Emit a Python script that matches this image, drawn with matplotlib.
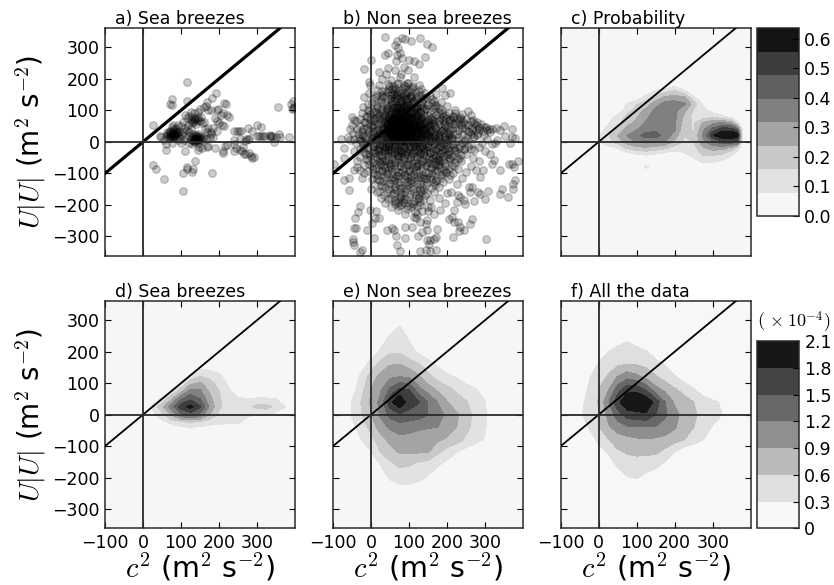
import numpy as np
import matplotlib
matplotlib.use("Agg")
import matplotlib.pyplot as plt

plt.rcParams['mathtext.fontset'] = 'cm'
plt.rcParams['font.family'] = 'DejaVu Sans'

# scatter points read off panels a) and b), (c2, U|U|)
sea_points = [
    (116,191),(25,54),(75,137),(72,120),(76,118),(117,129),(191,154),(182,138),(168,127),(212,122),(218,120),
    (354,112),(390,120),(396,128),(395,108),(392,105),(398,112),
    (60,20),(65,30),(70,25),(72,18),(75,28),(78,22),(80,30),(82,18),(85,25),(88,32),(90,20),(75,15),(68,12),
    (62,28),(70,35),(80,12),(85,15),(92,28),(78,38),(84,40),(95,35),(100,22),(105,30),(110,20),(98,12),(88,45),
    (92,52),(80,55),(75,48),(100,50),(105,62),(110,45),(115,38),(120,30),(125,42),(118,55),
    (83,24),(76,20),(88,26),(72,30),(80,24),(90,30),(70,16),(66,22),
    (125,10),(130,15),(135,8),(138,12),(140,5),(142,18),(145,10),(148,15),(150,8),(135,18),(128,5),(132,2),
    (145,3),(150,20),(155,12),(140,22),(132,25),(138,-2),(147,-3),(155,5),(122,18),(160,15),(145,25),
    (138,8),(142,12),(135,4),(146,7),(140,15),
    (125,70),(130,65),(135,72),(138,68),(140,75),(145,70),(150,65),(135,62),(130,78),(145,80),
    (152,80),(128,60),(155,60),(140,58),(160,62),(120,82),(115,75),(135,90),(125,95),(145,95),
    (150,105),(160,110),(165,115),(170,100),(180,100),(110,85),
    (195,100),(198,105),(205,85),(210,90),(220,85),(225,80),(190,75),(195,65),(200,60),(208,55),(212,50),
    (185,45),(195,35),(178,25),(175,15),(168,30),(162,40),(170,45),
    (288,35),(240,35),(248,35),(252,35),(258,35),(277,45),(299,55),(311,47),(300,20),(305,18),(310,20),(315,20),
    (320,18),(335,18),(340,20),(338,15),(333,22),(358,25),(350,15),(385,15),(345,-2),(360,15),
    (240,5),(255,10),(270,8),(275,8),(268,2),(280,8),
    (240,-8),(245,-20),(240,-28),(255,-25),(260,-30),(265,-38),(280,-35),(270,-40),(285,-45),(287,-50),(293,-48),
    (263,-15),(190,-18),(210,-35),(210,-28),(215,-12),(220,-10),
    (26,-72),(33,-85),(55,-117),(105,-100),(115,-85),(117,-80),(130,-95),(137,-62),(132,-85),(182,-100),(106,-157),
    (55,5),(60,-8),(60,-25),(48,15),(45,20),(75,-5),(110,-28),(120,-5),(130,-8),(145,-25),(147,-15),(155,-18),
    (170,-12),(168,-15),(100,-3),(108,5),(92,5),(165,8),(180,30),(185,15),
]

non_sea_outer = [
    (36,332),(68,320),(82,328),(90,325),(105,320),(130,328),(147,310),(160,302),(64,307),(70,297),(77,281),(68,276),
    (38,276),(46,281),(0,261),(-19,231),(20,223),(46,235),(67,255),(82,265),(100,260),(112,255),(127,248),(142,268),
    (86,238),(97,228),(64,228),
    (-28,-204),(-35,-223),(-43,-242),(-2,-217),(14,-219),(3,-257),(20,-243),(11,-243),(-46,-272),(-39,-273),(-11,-281),
    (7,-304),(-48,-307),(-48,-318),(-46,-326),(-24,-342),(-28,-350),(68,-326),(75,-347),(130,-346),(144,-342),(154,-346),
    (172,-342),(89,-304),(67,-300),(42,-279),(55,-272),(61,-281),(90,-270),(108,-270),(124,-297),(147,-249),(145,-260),
    (130,-254),(118,-243),(121,-228),(149,-206),(149,-219),(167,-230),(182,-217),(219,-215),(205,-244),(212,-238),
    (218,-254),(228,-254),(235,-270),(244,-281),(231,-283),(216,-302),(266,-244),(261,-262),(303,-307),(174,-276),
    (147,-312),(156,-312),(165,-307),(172,-302),(152,-323),(134,-286),(147,-281),
    (257,-144),(266,-144),(260,-160),(281,-160),(286,-165),(308,-157),(299,-180),(270,-186),(246,-184),(248,-197),
    (235,-174),(228,-169),(200,-162),(345,-151),(340,-164),(360,-175),(374,-133),(380,-122),(374,-148),(362,-69),
    (371,-69),(375,-80),(388,-60),(340,-90),(323,-56),(318,-69),(314,-37),(296,-90),(288,-111),
    (255,97),(209,156),(187,170),(349,51),(371,40),(340,37),(310,42),(297,48),(279,64),(305,37),(314,32),(353,18),
    (371,16),(380,11),(331,5),(327,-3),(366,-5),
    (-50,80),(-45,70),(-40,65),(-50,55),(-55,42),(-80,10),(-60,15),(-55,5),(-70,-20),(-98,-69),(-70,-50),(-70,-122),
    (-57,-116),(-59,-154),(-24,-116),(-28,-90),(-46,-90),(-19,-100),(-37,-80),(-19,143),(-2,180),(-6,190),(-45,8),(-30,5),
]

non_sea_halo = [
    (30,200),(52,195),(75,205),(95,188),(20,180),(48,178),(68,185),(88,172),(110,178),(125,160),(105,150),(80,155),
    (60,165),(38,160),(15,165),(-5,155),(5,140),(28,142),(50,148),(72,138),(95,135),(118,138),(140,140),(165,128),
    (150,118),(185,125),(200,115),(178,108),(220,100),(240,88),(205,90),(225,75),(250,72),(270,60),(190,82),(165,95),
    (-8,120),(-20,112),(-5,98),(-25,90),(-10,80),(-30,72),(-15,62),(-28,50),(-38,42),(-25,35),(-12,45),(-35,25),
    (-20,18),(-48,28),(-32,12),(-15,8),(-40,-5),(-22,-8),(-8,-15),(-30,-22),(-45,-30),(-18,-32),(-5,-38),(-28,-48),
    (-12,-55),(-38,-60),(-5,-70),(-18,-72),(5,-85),(-8,-92),(12,-105),(2,-118),(20,-122),(8,-135),(30,-140),(22,-155),
    (35,-168),(48,-150),(45,-180),(60,-162),(62,-190),(75,-175),(80,-200),(92,-182),(95,-212),(108,-195),(115,-222),
    (125,-178),(130,-200),(142,-170),(155,-185),(165,-160),(180,-142),(170,-122),(190,-128),(205,-118),(215,-100),(225,-135),
    (240,-115),(250,-95),(262,-78),(275,-90),(285,-62),(268,-50),(250,-40),(238,-62),(230,-85),(212,-72),(198,-95),(185,-105),
    (270,-25),(285,-15),(262,-8),(248,5),(268,15),(282,28),(258,32),(240,45),(225,25),(212,40),(235,-12),(220,-30),
    (205,-50),(190,-60),(175,-78),(160,-100),(145,-118),(128,-135),(110,-150),(95,-128),(78,-145),(60,-120),(42,-100),(28,-88),
    (158,-80),(142,-95),(122,-108),(105,-120),(88,-105),(70,-95),(52,-82),(35,-72),(20,-62),(10,-48),(26,-42),(45,-58),
    (62,-65),(80,-78),(100,-85),(118,-75),(135,-62),(152,-55),(170,-45),(185,-35),(200,-22),(212,-8),(195,5),(178,-10),
    (205,22),(188,35),(172,-25),(155,-32),(138,-40),(120,-48),(102,-55),(85,-52),(68,-42),(52,-35),(38,-28),(22,-22),
    (8,-25),(12,-8),(28,-5),(45,-12),(60,-20),(78,-28),(95,-32),(112,-25),(130,-18),(148,-12),(165,-5),(180,10),
    (195,55),(178,68),(205,62),(160,78),(145,105),(128,118),(110,128),(92,118),(75,122),(55,128),(35,122),(15,115),
    (8,95),(25,100),(42,108),(-2,72),(12,78),(0,55),(-5,30),(8,35),(2,12),(15,18),(155,50),(170,40),(150,28),(165,18),
    (132,168),(112,205),(78,215),(40,215),(200,-40),(180,-60),(165,-70),(228,-50),(245,-22),(90,-228),(70,-215),(52,-205),
    (112,-238),(135,-218),(158,-205),(38,-195),(25,-178),(15,-160),(0,-150),(180,-178),(195,-195),(210,-160),(225,-190),
    (300,-30),(292,-5),(305,10),(298,22),(318,-8),(285,48),(265,45),(242,62),(262,85),(195,148),(172,152),(155,145),
    (215,78),(232,68),(248,58),(262,66),(276,52),(290,58),(302,46),(318,40),(330,44),(222,92),(235,78),(255,52),
    (268,70),(285,40),(296,34),(222,58),(238,72),(210,70),(198,75),(186,92),(172,118),(160,135),(142,155),(125,180),
]

non_sea_core = [
    (30,10),(38,18),(45,8),(52,15),(60,5),(68,12),(75,3),(82,10),(90,16),(98,6),(105,12),(112,4),(120,14),(128,8),(135,16),(142,6),
    (150,12),(158,4),(34,28),(42,35),(48,24),(55,32),(62,25),(70,34),(76,26),(84,30),(92,36),(100,27),(108,34),(115,26),(124,32),(132,25),
    (140,33),(148,26),(35,45),(42,52),(50,42),(56,50),(63,44),(70,52),(78,45),(85,50),(92,43),(100,52),(108,46),(116,53),(124,44),(132,50),
    (140,47),(150,52),(38,62),(46,68),(53,60),(60,66),(66,58),(72,68),(80,62),(88,68),(95,60),(102,68),(110,62),(118,70),(126,62),(135,68),
    (143,62),(44,80),(50,88),(58,78),(64,86),(70,78),(78,84),(85,78),(92,86),(100,80),(108,88),(116,80),(124,86),(132,78),(50,100),(58,108),
    (65,98),(72,106),(80,100),(88,108),(96,100),(104,106),(112,98),(120,104),(55,120),(63,128),(70,118),(78,126),(86,118),(95,124),(103,116),
    (60,140),(68,148),(76,138),(84,145),(92,136),(100,142),(40,-5),(48,-12),(55,-3),(63,-10),(70,-18),(78,-6),(86,-14),(94,-4),(102,-12),(110,-5),
    (118,-14),(126,-4),(134,-10),(142,-2),(150,-8),(50,-28),(60,-32),(70,-35),(80,-30),(90,-38),(100,-28),(110,-35),(120,-30),(130,-36),(140,-28),
    (65,55),(72,48),(78,58),(84,42),(66,38),(74,40),(82,56),(60,48),(68,62),(76,70),(86,60),(90,50),(58,40),(52,55),(64,72),(70,30),(78,34),
    (86,24),(94,30),(102,40),(110,55),(118,45),(60,20),(68,18),(76,14),(84,18),(92,22),(100,16),(108,22),(52,22),(44,28),(40,40),(46,60),(54,70),
    (62,80),(70,90),(78,95),(86,90),(94,75),(102,58),(74,55),(80,48),(66,50),(72,62),(78,42),(70,44),(62,56),(84,66),(90,58),(56,62),(48,48),
    (65,15),(75,22),(85,8),(95,12),(105,24),(115,18),(125,22),(135,28),(145,20),(155,35),(165,30),(160,60),(150,70),(140,85),(130,95),(120,115),
    (45,-25),(35,-15),(25,5),(20,25),(28,42),(25,58),(30,72),(35,85),(40,98),(45,115),(50,135),(112,130),(105,145),(90,155),(70,160),(55,152),
    (42,12),(50,4),(58,12),(66,6),(74,10),(80,4),(88,12),(96,2),(104,8),(112,14),(120,6),(128,12),(46,30),(54,26),(62,34),(68,28),(74,36),
    (82,26),(90,34),(98,24),(106,32),(114,38),(122,28),(130,36),(44,46),(52,40),(60,38),(68,46),(76,38),(88,44),(96,50),(104,44),(112,50),
    (120,40),(128,46),(136,40),(42,58),(50,64),(58,56),(64,64),(72,56),(82,52),(88,62),(98,56),(106,52),(114,60),(122,54),(130,58),(138,56),
    (48,76),(56,72),(62,74),(68,82),(76,76),(84,72),(92,78),(100,72),(108,78),(114,72),(122,78),(130,72),(54,90),(62,94),(68,92),(74,88),
    (82,92),(90,94),(98,90),(106,96),(114,90),(122,94),(60,110),(68,112),(76,108),(84,114),(92,110),(100,112),(70,72),(66,42),(80,66),(74,66),
    (90,40),(96,38),(102,34),(58,30),(52,36),(46,38),(72,22),(80,16),(88,6),(60,12),(56,24),(64,32),(70,60),(78,50),(86,46),(94,66),(102,74),
]

non_sea_body = [
    (44,182),(58,176),(72,188),(86,180),(98,186),(108,174),
    (28,162),(41,158),(55,166),(68,156),(82,164),(95,158),(108,166),(118,155),
    (12,142),(25,136),(38,146),(52,138),(66,144),(79,134),(92,148),(106,138),(120,144),(133,136),(146,142),(128,150),
    (2,122),(14,116),(27,126),(40,118),(54,124),(67,114),(81,128),(94,116),(108,122),(121,112),(134,126),(147,118),(160,122),(168,114),
    (-8,102),(4,96),(16,106),(28,98),(41,104),(53,94),(66,108),(79,98),(91,104),(104,94),(117,106),(129,98),(142,104),(155,94),(167,106),(178,96),(188,102),(136,112),
    (-14,82),(-2,88),(10,76),(22,86),(35,78),(47,84),(59,74),(72,88),(84,76),(97,84),(109,74),(122,86),(134,76),(147,84),(159,72),(172,86),(184,76),(196,84),(207,74),(216,82),
    (-18,62),(-6,56),(6,66),(18,58),(30,64),(42,54),(55,68),(67,56),(80,66),(92,54),(105,64),(117,56),(130,68),(142,58),(155,64),(167,54),(180,66),(192,56),(205,68),(217,58),(228,64),(238,54),(160,70),(148,44),
    (-20,42),(-8,36),(4,46),(16,38),(28,48),(40,34),(52,44),(64,36),(76,48),(88,38),(100,44),(112,34),(124,46),(136,38),(148,48),(160,36),(172,44),(184,34),(196,46),(208,38),(220,46),(232,36),(244,44),(256,34),(266,42),(275,36),
    (-24,22),(-12,16),(0,26),(12,18),(24,28),(36,14),(48,24),(60,16),(72,28),(84,14),(96,26),(108,18),(120,28),(132,16),(144,24),(156,14),(168,26),(180,18),(192,28),(204,16),(216,24),(228,14),(240,26),(252,18),(262,24),(272,14),(280,22),(198,8),
    (-25,2),(-13,-4),(-1,6),(11,-2),(23,-8),(35,4),(47,-4),(59,6),(71,-6),(83,2),(95,-8),(107,4),(119,-4),(131,6),(143,-6),(155,2),(167,-8),(179,4),(191,-4),(203,6),(215,-6),(227,2),(239,-4),(248,4),(28,-12),(122,-2),(172,2),(210,8),
    (-20,-18),(-8,-24),(4,-14),(16,-22),(28,-28),(40,-16),(52,-22),(64,-14),(76,-26),(88,-18),(100,-24),(112,-14),(124,-22),(136,-16),(148,-26),(160,-18),(172,-24),(184,-14),(196,-22),(208,-16),(220,-26),(232,-18),(244,-24),(256,-14),(262,-22),(190,-8),
    (-14,-38),(-2,-44),(10,-34),(22,-42),(34,-36),(46,-46),(58,-38),(70,-44),(82,-34),(94,-42),(106,-36),(118,-46),(130,-38),(142,-44),(154,-34),(166,-42),(178,-36),(190,-46),(202,-38),(214,-44),(226,-34),(238,-42),
    (-8,-58),(4,-64),(16,-54),(28,-62),(40,-56),(52,-66),(64,-58),(76,-64),(88,-54),(100,-62),(112,-56),(124,-66),(136,-58),(148,-64),(160,-54),(172,-62),(184,-56),(196,-66),(208,-58),(220,-64),(232,-54),(180,-48),
    (2,-78),(14,-84),(26,-74),(38,-82),(50,-76),(62,-86),(74,-78),(86,-84),(98,-74),(110,-82),(122,-76),(134,-86),(146,-78),(158,-84),(170,-74),(182,-82),(194,-76),(206,-86),(218,-78),(100,-92),
    (6,-98),(18,-104),(30,-94),(42,-102),(54,-96),(66,-106),(78,-98),(90,-104),(102,-94),(114,-102),(126,-96),(138,-106),(150,-98),(162,-104),(174,-94),(186,-102),(198,-96),(208,-104),
    (16,-118),(28,-124),(40,-114),(52,-122),(64,-116),(76,-126),(88,-118),(100,-124),(112,-114),(124,-122),(136,-116),(148,-126),(160,-118),(172,-124),(184,-114),
    (26,-138),(38,-144),(50,-134),(62,-142),(74,-136),(86,-146),(98,-138),(110,-144),(122,-134),(134,-142),(146,-136),(158,-146),(168,-138),
    (42,-158),(54,-164),(66,-154),(78,-162),(90,-156),(102,-166),(114,-158),(126,-164),(138,-154),(148,-162),
    (52,-178),(64,-184),(76,-174),(88,-182),(100,-176),(112,-186),(124,-178),(136,-184),
    (62,-198),(74,-204),(86,-194),(98,-202),(110,-196),(120,-204),
    (48,168),(62,172),(90,176),(102,160),(15,150),(30,150),(60,152),(88,140),(115,122),(132,108),
    (15,90),(30,90),(48,74),(62,92),(76,112),(88,94),(105,78),(118,92),(130,60),(140,78),(152,58),(165,68),(178,58),(190,70),(200,48),
    (8,70),(22,72),(36,68),(50,48),(64,66),(76,60),(90,72),(102,50),(116,64),(128,52),(142,42),(155,30),(168,48),(180,28),(190,40),(202,30),
    (6,52),(18,44),(32,38),(44,46),(58,34),(70,42),(82,38),(94,48),(106,28),(118,36),(130,42),(142,28),(155,20),(168,12),(182,22),(194,18),(206,26),
    (4,30),(14,8),(28,20),(40,26),(54,10),(66,22),(80,20),(92,10),(104,20),(116,10),(128,20),(140,12),(152,22),(164,6),(176,14),(188,-2),(200,-10),(214,12),
    (8,-12),(22,-16),(36,-22),(48,-6),(62,-8),(76,-14),(88,-2),(100,-16),(114,-8),(126,-14),(138,-24),(150,-16),(162,-30),(176,-18),(188,-26),(204,-30),(218,-18),
    (6,-36),(18,-30),(30,-48),(44,-32),(56,-50),(68,-30),(80,-46),(92,-28),(104,-48),(116,-30),(128,-52),(140,-32),(152,-48),(164,-50),(176,-54),(192,-32),(208,-52),
    (12,-70),(24,-66),(36,-60),(48,-70),(60,-74),(72,-52),(84,-68),(96,-70),(108,-66),(120,-72),(132,-70),(144,-72),(156,-68),(168,-88),(180,-70),(192,-88),
    (22,-92),(34,-110),(46,-90),(58,-112),(70,-108),(82,-92),(94,-112),(106,-108),(118,-88),(130,-110),(142,-116),(154,-110),(166,-130),(128,-148),(70,-128),(48,-130),
    (92,-150),(80,-170),(60,-148),(105,-132),(118,-168),(132,-160),(85,-190),(70,-192),(105,-208),(128,-192),
]

# density fields
prob_x = [0, 25, 50, 75, 100, 125, 150, 175, 200, 225, 250, 275, 300, 325, 350, 365, 380]
prob_y = [180, 160, 140, 120, 100, 80, 60, 40, 20, 0, -20, -40, -60, -80, -100]
prob_vals = [
    [0,0,0,0,0,0,0,0,.05,0,0,0,0,0,0,0,0],
    [0,0,0,0,0,.02,.1,.14,.17,.1,0,0,0,0,0,0,0],
    [0,0,0,0,.03,.12,.2,.26,.28,.26,.1,0,0,0,0,0,0],
    [0,0,0,.09,.15,.2,.28,.35,.36,.33,.2,.07,0,0,0,0,0],
    [0,0,.03,.12,.2,.26,.34,.36,.34,.26,.15,.1,.05,0,0,0,0],
    [0,.05,.1,.18,.23,.3,.36,.37,.34,.22,.13,.12,.13,.1,.04,0,0],
    [.03,.07,.13,.21,.26,.33,.37,.37,.33,.2,.15,.25,.3,.33,.27,.1,0],
    [.05,.1,.18,.27,.31,.36,.38,.38,.33,.18,.15,.3,.42,.52,.52,.42,0],
    [.07,.15,.24,.32,.38,.43,.43,.37,.28,.16,.17,.33,.55,.63,.635,.635,0],
    [.08,.13,.19,.27,.33,.34,.33,.31,.22,.15,.16,.3,.38,.45,.45,.42,0],
    [0,.05,.08,.17,.21,.22,.2,.17,.12,.1,.13,.22,.27,.27,.2,.13,0],
    [0,0,0,.03,.07,.09,.07,.04,.03,.07,.1,.17,.17,.15,.09,.03,0],
    [0,0,0,0,0,0,0,0,0,.01,.06,.1,.1,.08,.03,0,0],
    [0,0,0,0,0,.1,0,0,0,0,0,.04,0,0,0,0,0],
    [0,0,0,0,0,0,0,0,0,0,0,0,0,0,0,0,0],
]

sea_x = [0, 25, 50, 75, 100, 125, 150, 175, 200, 225, 250, 275, 300, 325, 350, 375, 400]
sea_y = [150, 125, 100, 75, 50, 25, 0, -25, -50]
sea_vals = [
    [0,0,0,0,0,.1,.2,.2,.1,0,0,0,0,0,0,0,0],
    [0,0,0,0,.1,.3,.55,.5,.35,.1,0,0,0,0,0,0,0],
    [0,0,0,.1,.3,.8,.95,.7,.5,.25,0,0,0,0,0,0,0],
    [0,0,.05,.3,.8,1.3,1.25,.85,.6,.35,.15,0,0,0,0,0,0],
    [0,.1,.35,.85,1.45,1.75,1.5,1.0,.65,.4,.33,.32,.34,.34,.3,.1,0],
    [.1,.35,.8,1.35,1.95,2.2,1.85,1.15,.65,.45,.42,.5,.68,.72,.5,.3,.05],
    [.05,.2,.5,.95,1.45,1.65,1.4,.9,.55,.4,.38,.33,.32,.32,.2,.05,0],
    [0,.05,.2,.38,.5,.55,.5,.4,.35,.33,.33,.22,.1,0,0,0,0],
    [0,0,0,0,.1,.15,.12,.1,.1,.15,.15,.05,0,0,0,0,0],
]

dens_x = [-75, -50, -25, 0, 25, 50, 75, 100, 125, 150, 175, 200, 225, 250, 275, 300, 325, 350]
dens_y = [280, 240, 200, 160, 120, 80, 40, 0, -40, -80, -120, -160, -200, -240]
non_sea_vals = [
    [0,0,0,0,0,.1,.32,.1,0,0,0,0,0,0,0,0,0,0],
    [0,0,0,0,.15,.38,.45,.28,.1,0,0,0,0,0,0,0,0,0],
    [0,0,0,.1,.35,.55,.56,.42,.25,.1,0,0,0,0,0,0,0,0],
    [0,0,.15,.42,.7,.88,.9,.75,.62,.42,.25,.1,0,0,0,0,0,0],
    [0,.1,.38,.75,1.0,1.15,1.2,1.18,.95,.68,.5,.38,.28,.1,0,0,0,0],
    [0,.15,.5,.9,1.15,1.55,1.85,1.8,1.3,1.05,.85,.68,.55,.45,.33,.12,0,0],
    [.05,.32,.62,.95,1.3,2.0,2.39,1.95,1.82,1.5,1.2,.92,.72,.62,.48,.32,.05,0],
    [.1,.32,.6,.88,1.25,1.6,1.75,1.7,1.65,1.5,1.3,1.15,.95,.72,.52,.33,.1,0],
    [0,.22,.45,.7,1.05,1.25,1.35,1.3,1.25,1.22,1.2,1.05,.9,.68,.5,.33,.05,0],
    [0,.05,.3,.5,.75,1.0,1.1,1.1,1.05,1.0,.95,.85,.72,.55,.4,.28,0,0],
    [0,0,.05,.27,.6,.75,.92,.93,.92,.9,.65,.45,.3,.15,.05,0,0,0],
    [0,0,0,.05,.3,.52,.65,.62,.5,.42,.33,.2,.05,0,0,0,0,0],
    [0,0,0,0,.1,.35,.42,.43,.4,.28,.1,0,0,0,0,0,0,0],
    [0,0,0,0,0,.05,.18,.2,.05,0,0,0,0,0,0,0,0,0],
]
all_vals = [
    [0,0,0,0,0,0,0,0,0,0,0,0,0,0,0,0,0,0],
    [0,0,0,0,0,.15,.25,.12,0,0,0,0,0,0,0,0,0,0],
    [0,0,0,.1,.3,.42,.5,.42,.32,.12,0,0,0,0,0,0,0,0],
    [0,0,.1,.33,.47,.56,.6,.58,.52,.42,.28,.1,0,0,0,0,0,0],
    [0,.05,.27,.48,.63,.92,1.1,.98,.8,.63,.47,.33,.15,0,0,0,0,0],
    [0,.1,.35,.6,.87,1.35,1.7,1.72,1.45,1.0,.82,.63,.5,.32,.12,0,0,0],
    [.02,.2,.4,.62,1.15,1.72,2.05,2.06,2.05,1.68,1.2,.85,.72,.6,.45,.36,.26,.05],
    [.02,.25,.42,.6,.98,1.35,1.65,1.72,1.75,1.5,1.25,1.0,.78,.65,.5,.38,.3,.05],
    [0,.05,.33,.57,.85,1.05,1.15,1.18,1.18,1.17,1.08,.93,.75,.6,.43,.28,.1,0],
    [0,0,.1,.38,.58,.72,.8,.85,.87,.85,.8,.7,.6,.45,.3,.1,0,0],
    [0,0,0,.15,.33,.56,.62,.65,.65,.64,.5,.28,.05,0,0,0,0,0],
    [0,0,0,0,.1,.35,.45,.48,.45,.38,.22,.05,0,0,0,0,0,0],
    [0,0,0,0,0,.1,.28,.32,.2,.08,0,0,0,0,0,0,0,0],
    [0,0,0,0,0,0,0,0,0,0,0,0,0,0,0,0,0,0],
]

prob_levels = np.linspace(0, 0.636, 9)
prob_ticks = [0, 0.1, 0.2, 0.3, 0.4, 0.5, 0.6]
prob_ticklabels = ['0.0', '0.1', '0.2', '0.3', '0.4', '0.5', '0.6']
dens_ticks = [0, 0.3, 0.6, 0.9, 1.2, 1.5, 1.8, 2.1]
dens_ticklabels = ['0', '0.3', '0.6', '0.9', '1.2', '1.5', '1.8', '2.1']

grey8 = ['#f6f6f6', '#e2e2e2', '#c8c8c8', '#a4a4a4', '#808080', '#606060', '#3d3d3d', '#141414']
grey7 = ['#f7f7f7', '#dfdfdf', '#bababa', '#8f8f8f', '#686868', '#444444', '#171717']

W, H = 834.0, 585.0
fig = plt.figure(figsize=(8.34, 5.85), dpi=100)


def make_axes(x0, x1, y0, y1):
    return fig.add_axes([x0 / W, 1 - y1 / H, (x1 - x0) / W, (y1 - y0) / H])


def dress(ax, title, lw, left=False, bottom=False):
    ax.plot([-100, 400], [-100, 400], color='k', lw=lw, zorder=4)
    ax.axhline(0, color='#2a2a2a', lw=1.3, zorder=4)
    ax.axvline(0, color='#2a2a2a', lw=1.3, zorder=4)
    ax.set_xlim(-100, 400)
    ax.set_ylim(-361, 361)
    ax.set_xticks([-100, 0, 100, 200, 300])
    ax.set_yticks([-300, -200, -100, 0, 100, 200, 300])
    ax.tick_params(direction='in', top=True, right=True, length=4.5, width=0.8, labelsize=12.5,
                   labelleft=left, labelbottom=bottom, pad=4)
    for s in ax.spines.values():
        s.set_linewidth(1.1)
        s.set_color('#2a2a2a')
    ax.text(0.053, 0.998, title, transform=ax.transAxes, fontsize=12.5, va='bottom', ha='left')
    if left:
        ax.set_ylabel(r'$U|U|$ (m$^2$ s$^{-2}$)', fontsize=20, labelpad=3)
    if bottom:
        ax.set_xlabel(r'$c^2$ (m$^2$ s$^{-2}$)', fontsize=20.5, labelpad=0)


def scatter_panel(ax, groups):
    for pts in groups:
        p = np.array(pts)
        ax.scatter(p[:, 0], p[:, 1], s=30, c='k', alpha=0.2, zorder=3)


def density_panel(ax, xs, ys, vals, levels, colors):
    ax.set_facecolor(colors[0])
    return ax.contourf(xs, ys, np.array(vals), levels=levels, colors=colors, zorder=1)


def style_cbar(cb, labels):
    cb.ax.set_yticklabels(labels)
    cb.ax.tick_params(direction='in', length=4.5, width=0.8, labelsize=12.5, pad=4, right=True)
    cb.outline.set_linewidth(1.1)
    cb.outline.set_edgecolor('#2a2a2a')


xcols = [(105, 295), (333, 523), (560.7, 750.7)]
top_y = (28, 255.7)
low_y = (301, 528.3)

ax_a = make_axes(xcols[0][0], xcols[0][1], *top_y)
ax_b = make_axes(xcols[1][0], xcols[1][1], *top_y)
ax_c = make_axes(xcols[2][0], xcols[2][1], *top_y)
ax_d = make_axes(xcols[0][0], xcols[0][1], *low_y)
ax_e = make_axes(xcols[1][0], xcols[1][1], *low_y)
ax_f = make_axes(xcols[2][0], xcols[2][1], *low_y)

scatter_panel(ax_a, [sea_points])
scatter_panel(ax_b, [non_sea_outer, non_sea_halo, non_sea_core, non_sea_body])
cf_c = density_panel(ax_c, prob_x, prob_y, prob_vals, prob_levels, grey8)
density_panel(ax_d, sea_x, sea_y, sea_vals, np.arange(0, 2.5, 0.3), grey8)
density_panel(ax_e, dens_x, dens_y, non_sea_vals, np.arange(0, 2.5, 0.3), grey8)
cf_f = density_panel(ax_f, dens_x, dens_y, all_vals, dens_ticks, grey7)

dress(ax_a, 'a) Sea breezes', 2.3, left=True)
dress(ax_b, 'b) Non sea breezes', 2.3)
dress(ax_c, 'c) Probability', 1.3)
dress(ax_d, 'd) Sea breezes', 1.3, left=True, bottom=True)
dress(ax_e, 'e) Non sea breezes', 1.3, bottom=True)
dress(ax_f, 'f) All the data', 1.3, bottom=True)

cax_top = make_axes(757.3, 798.7, 28, 216)
cb_top = fig.colorbar(cf_c, cax=cax_top, ticks=prob_ticks)
style_cbar(cb_top, prob_ticklabels)

cax_low = make_axes(757.3, 798.7, 341, 528.3)
cb_low = fig.colorbar(cf_f, cax=cax_low, ticks=dens_ticks)
style_cbar(cb_low, dens_ticklabels)
cax_low.text(0.0, 1.03, r'$(\,\times 10^{-4})$', transform=cax_low.transAxes, fontsize=13, va='bottom', ha='left')

fig.savefig('out.png', dpi=100)
